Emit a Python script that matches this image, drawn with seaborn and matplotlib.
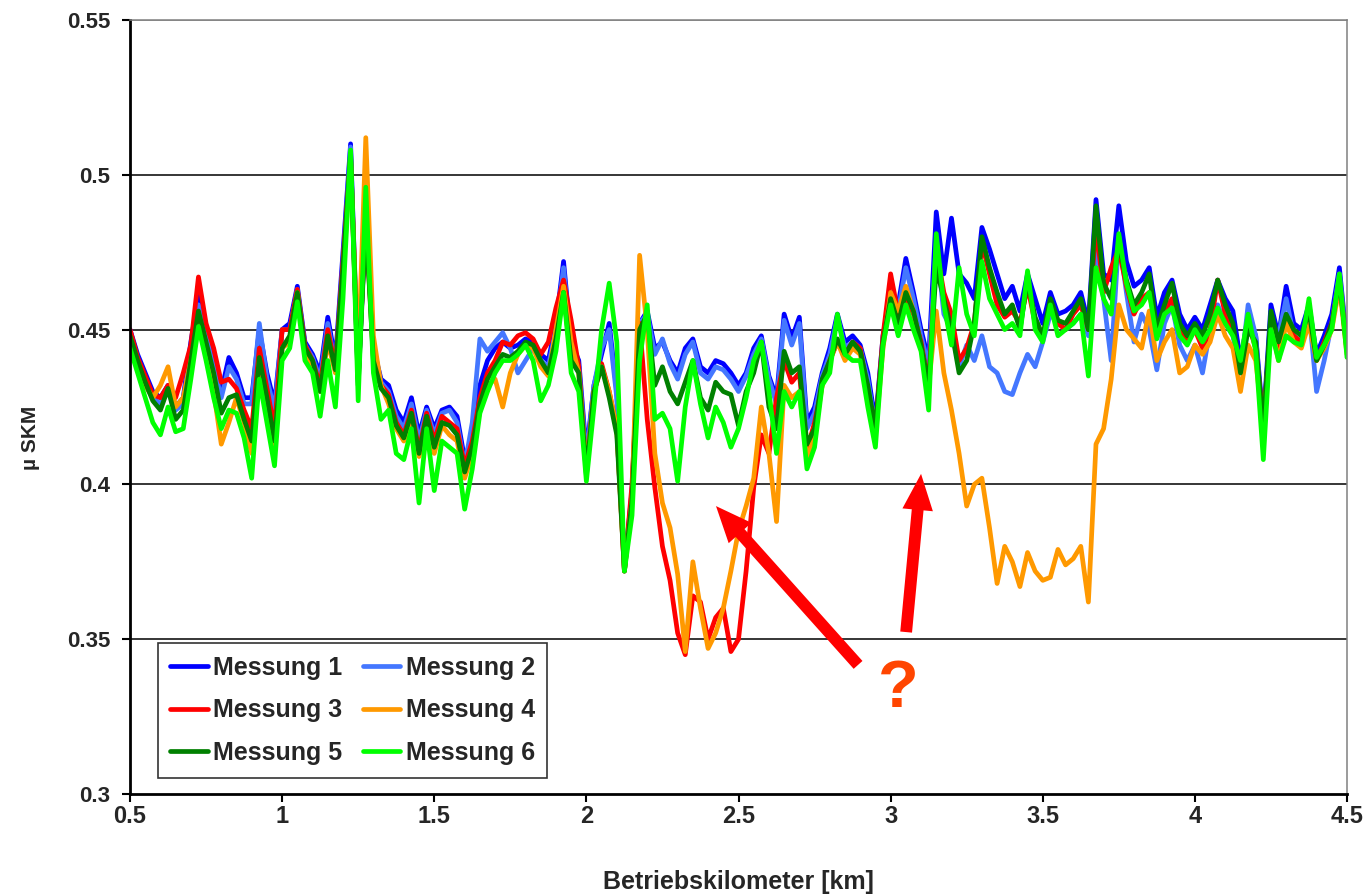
import numpy as np
import pandas as pd
import matplotlib
matplotlib.use("Agg")
import matplotlib.pyplot as plt
import seaborn as sns

# distance axis: 0.5 .. 4.5 km in 0.025 km steps (161 samples)
km_start, km_step, n_points = 0.5, 0.025, 161

series_names = ["Messung 1", "Messung 2", "Messung 3", "Messung 4", "Messung 5", "Messung 6"]
series_colors = ["#0000FF", "#4477FF", "#FF0000", "#FF9900", "#008000", "#00FF00"]

messung_1 = [
    .450, .442, .436, .430, .428, .432, .425, .428,
    .446, .461, .450, .440, .430, .441, .436, .428,
    .428, .450, .436, .426, .450, .452, .464, .446,
    .442, .436, .454, .440, .475, .510, .434, .486,
    .444, .434, .432, .424, .420, .428, .416, .425,
    .418, .424, .425, .422, .408, .416, .432, .440,
    .444, .446, .444, .445, .447, .446, .442, .440,
    .452, .472, .446, .440, .410, .432, .442, .452,
    .430, .373, .398, .452, .456, .444, .446, .440,
    .436, .444, .447, .438, .436, .440, .439, .436,
    .432, .436, .444, .448, .435, .428, .455, .447,
    .454, .420, .425, .436, .444, .455, .446, .448,
    .445, .436, .420, .448, .462, .458, .473, .462,
    .450, .440, .488, .468, .486, .468, .465, .460,
    .483, .476, .468, .460, .464, .456, .468, .460,
    .452, .462, .455, .456, .458, .462, .452, .492,
    .468, .466, .490, .472, .464, .466, .470, .454,
    .462, .466, .455, .450, .454, .450, .458, .466,
    .460, .456, .440, .454, .448, .420, .458, .448,
    .464, .452, .450, .458, .442, .448, .455, .470,
    .445]

messung_2 = [
    .447, .438, .432, .428, .426, .430, .424, .426,
    .444, .458, .448, .438, .428, .438, .434, .426,
    .426, .452, .434, .424, .450, .450, .463, .445,
    .441, .434, .452, .438, .472, .509, .433, .488,
    .443, .433, .430, .422, .418, .426, .414, .424,
    .416, .423, .424, .420, .406, .420, .447, .443,
    .446, .449, .444, .436, .440, .444, .440, .438,
    .450, .470, .444, .438, .408, .432, .444, .450,
    .428, .372, .397, .452, .455, .442, .447, .439,
    .434, .442, .446, .436, .434, .438, .437, .434,
    .430, .435, .442, .447, .434, .426, .453, .445,
    .452, .418, .423, .435, .442, .454, .444, .446,
    .444, .434, .418, .447, .460, .456, .470, .460,
    .448, .438, .478, .455, .450, .438, .445, .440,
    .448, .438, .436, .430, .429, .436, .442, .438,
    .446, .455, .452, .450, .452, .455, .448, .475,
    .460, .440, .480, .462, .446, .455, .450, .437,
    .452, .458, .445, .440, .445, .436, .450, .458,
    .452, .448, .436, .458, .448, .415, .452, .448,
    .460, .448, .446, .456, .430, .440, .452, .468,
    .444]

messung_3 = [
    .450, .441, .435, .429, .428, .432, .428, .436,
    .445, .467, .452, .444, .433, .434, .431, .424,
    .418, .444, .431, .418, .450, .450, .463, .445,
    .440, .432, .450, .438, .472, .506, .434, .486,
    .441, .432, .429, .420, .416, .424, .411, .423,
    .414, .422, .420, .418, .406, .414, .428, .436,
    .440, .446, .445, .448, .449, .447, .442, .446,
    .457, .466, .453, .438, .404, .430, .439, .430,
    .418, .372, .400, .452, .421, .399, .380, .369,
    .352, .345, .364, .362, .350, .357, .360, .346,
    .350, .372, .399, .416, .410, .428, .440, .433,
    .436, .411, .420, .432, .440, .446, .442, .446,
    .444, .430, .418, .448, .468, .455, .460, .455,
    .446, .432, .476, .462, .455, .440, .444, .452,
    .478, .468, .458, .454, .456, .452, .464, .452,
    .448, .458, .452, .450, .455, .458, .450, .484,
    .462, .470, .476, .464, .455, .460, .462, .450,
    .456, .460, .450, .446, .450, .444, .450, .466,
    .455, .450, .437, .452, .444, .420, .452, .444,
    .452, .448, .446, .454, .440, .446, .452, .466,
    .444]

messung_4 = [
    .446, .438, .432, .428, .432, .438, .425, .428,
    .440, .452, .442, .430, .413, .420, .428, .420,
    .410, .440, .425, .412, .444, .446, .462, .442,
    .438, .430, .446, .436, .468, .505, .440, .512,
    .448, .432, .426, .418, .414, .421, .409, .420,
    .410, .419, .416, .414, .402, .410, .424, .432,
    .434, .425, .436, .442, .445, .444, .438, .435,
    .450, .464, .446, .436, .404, .430, .438, .430,
    .418, .372, .395, .474, .450, .410, .394, .386,
    .371, .346, .375, .360, .347, .352, .360, .372,
    .385, .393, .402, .425, .410, .388, .432, .428,
    .430, .408, .416, .432, .440, .446, .440, .444,
    .442, .430, .416, .444, .462, .456, .464, .456,
    .444, .432, .456, .436, .424, .410, .393, .400,
    .402, .386, .368, .380, .375, .367, .378, .372,
    .369, .370, .379, .374, .376, .380, .362, .413,
    .418, .434, .458, .450, .447, .444, .456, .440,
    .446, .450, .436, .438, .445, .442, .446, .455,
    .448, .444, .430, .445, .440, .418, .452, .440,
    .452, .446, .444, .452, .440, .444, .450, .464,
    .442]

messung_5 = [
    .448, .440, .433, .427, .424, .431, .421, .424,
    .440, .456, .446, .436, .423, .428, .429, .421,
    .414, .441, .428, .414, .444, .448, .462, .444,
    .440, .430, .448, .437, .470, .507, .432, .485,
    .440, .431, .428, .419, .415, .423, .410, .422,
    .412, .420, .419, .416, .404, .412, .426, .434,
    .438, .442, .441, .443, .446, .445, .440, .436,
    .447, .462, .440, .436, .403, .430, .438, .428,
    .416, .372, .395, .450, .455, .432, .438, .430,
    .426, .433, .440, .428, .424, .433, .430, .429,
    .419, .430, .436, .446, .425, .418, .443, .436,
    .438, .413, .418, .434, .440, .447, .442, .446,
    .443, .432, .418, .446, .460, .452, .462, .456,
    .445, .432, .470, .460, .450, .436, .440, .452,
    .480, .470, .462, .455, .458, .450, .466, .454,
    .448, .460, .453, .452, .456, .460, .450, .490,
    .465, .460, .478, .466, .458, .462, .468, .450,
    .458, .465, .452, .448, .452, .448, .455, .466,
    .458, .452, .436, .450, .446, .418, .456, .446,
    .455, .450, .448, .456, .440, .445, .452, .466,
    .443]

messung_6 = [
    .444, .436, .428, .420, .416, .425, .417, .418,
    .434, .451, .440, .428, .418, .424, .423, .415,
    .402, .434, .420, .406, .440, .444, .459, .440,
    .436, .422, .440, .425, .460, .508, .427, .496,
    .436, .421, .424, .410, .408, .418, .394, .418,
    .398, .414, .412, .410, .392, .405, .423, .430,
    .436, .440, .440, .442, .445, .440, .427, .432,
    .443, .462, .436, .430, .401, .425, .450, .465,
    .446, .372, .390, .440, .458, .421, .423, .418,
    .401, .425, .440, .426, .415, .425, .420, .412,
    .418, .428, .440, .446, .430, .410, .430, .425,
    .430, .405, .412, .432, .436, .455, .442, .440,
    .440, .425, .412, .445, .458, .448, .458, .450,
    .443, .424, .481, .458, .445, .470, .455, .448,
    .472, .460, .455, .450, .452, .448, .469, .450,
    .446, .458, .448, .450, .452, .455, .435, .470,
    .460, .455, .481, .465, .456, .458, .462, .447,
    .455, .457, .448, .445, .450, .446, .450, .457,
    .452, .448, .440, .455, .443, .408, .450, .440,
    .448, .446, .445, .460, .441, .445, .450, .468,
    .441]

y_ticks = [0.3, 0.35, 0.4, 0.45, 0.5, 0.55]
y_tick_labels = ["0.3", "0.35", "0.4", "0.45", "0.5", "0.55"]
x_ticks = [0.5, 1, 1.5, 2, 2.5, 3, 3.5, 4, 4.5]
x_tick_labels = ["0.5", "1", "1.5", "2", "2.5", "3", "3.5", "4", "4.5"]

# annotation arrows (tail -> head) and question mark, in data units
arrow_1 = ((2.893, 0.3417), (2.426, 0.393))
arrow_2 = ((3.051, 0.3523), (3.100, 0.4034))
question_pos = (3.024, 0.3335)

km = km_start + km_step * np.arange(n_points)
all_series = [messung_1, messung_2, messung_3, messung_4, messung_5, messung_6]
frames = []
for name, vals in zip(series_names, all_series):
    frames.append(pd.DataFrame({"km": km, "mu": vals, "Messung": name}))
df = pd.concat(frames, ignore_index=True)

sns.set_style("white")
plt.rcParams["font.family"] = ["Liberation Sans", "DejaVu Sans"]
plt.rcParams["font.weight"] = "bold"

fig = plt.figure(figsize=(13.72, 8.94), dpi=100)
ax = fig.add_axes([130 / 1372, 100 / 894, 1217 / 1372, 774 / 894])

# horizontal grid lines
for yv in y_ticks[1:-1]:
    ax.axhline(yv, color="black", lw=1.1, zorder=0.5)
ax.axhline(y_ticks[-1], color="#808080", lw=1.1, zorder=0.5)

sns.lineplot(data=df, x="km", y="mu", hue="Messung", hue_order=series_names,
             palette=dict(zip(series_names, series_colors)), linewidth=3.4,
             legend=False, ax=ax, sort=False)

ax.set_xlim(0.5, 4.5)
ax.set_ylim(0.3, 0.55)
ax.set_xticks(x_ticks)
ax.set_xticklabels(x_tick_labels, fontsize=17, fontweight="bold")
ax.set_yticks(y_ticks)
ax.set_yticklabels(y_tick_labels, fontsize=16, fontweight="bold")
ax.tick_params(axis="both", direction="out", length=6, width=1.5, color="black",
               left=True, bottom=True)
ax.tick_params(axis="x", pad=2)
ax.tick_params(axis="y", pad=8)

for side in ["left", "bottom"]:
    ax.spines[side].set_color("black")
    ax.spines[side].set_linewidth(2.0)
for side in ["right", "top"]:
    ax.spines[side].set_color("#808080")
    ax.spines[side].set_linewidth(1.1)

ax.set_xlabel("Betriebskilometer [km]", fontsize=18, fontweight="bold", labelpad=30)
ax.set_ylabel("µ SKM", fontsize=15, fontweight="bold")
ax.yaxis.set_label_coords(-0.074, 0.46)

# legend filled row-wise like the original (matplotlib fills column-wise)
lines = ax.get_lines()[-len(series_names):]
order = [0, 2, 4, 1, 3, 5]
leg = ax.legend([lines[i] for i in order], [series_names[i] for i in order],
                ncol=2, loc="lower left",
                bbox_to_anchor=(0.023, 0.021), borderaxespad=0,
                fontsize=18, frameon=True, fancybox=False, edgecolor="black",
                handlelength=1.5, handletextpad=0.22, columnspacing=0.8,
                labelspacing=0.75, borderpad=0.5)
leg.get_frame().set_linewidth(1.2)
for t in leg.get_texts():
    t.set_fontweight("bold")

for tail, head in [arrow_1, arrow_2]:
    ax.annotate("", xy=head, xytext=tail,
                arrowprops=dict(arrowstyle="simple,head_length=2.6,head_width=2.2,tail_width=0.85",
                                mutation_scale=10, color="#FF0000", lw=0,
                                shrinkA=0, shrinkB=0), zorder=5)

ax.text(question_pos[0], question_pos[1], "?", color="#FF4500", fontsize=48,
        fontweight="bold", ha="center", va="center", zorder=5)

fig.savefig("out.png", dpi=100)
